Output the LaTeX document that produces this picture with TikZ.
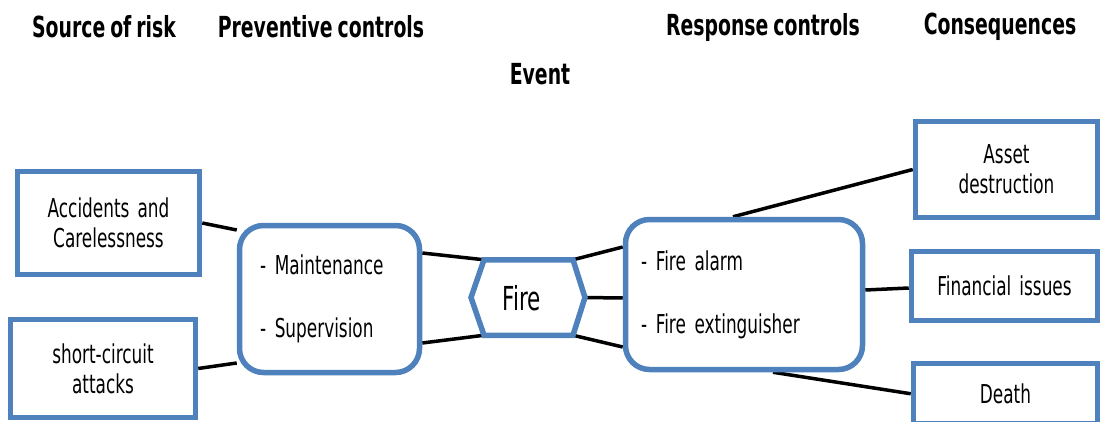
\documentclass[tikz,border=0pt]{standalone}
\usepackage{fontspec}
\setmainfont{DejaVu Sans}[FakeStretch=0.65,WordSpace=0.75]
\usetikzlibrary{positioning}
\pgfdeclarelayer{background}
\pgfsetlayers{background,main}
\definecolor{boxblue}{HTML}{4F81BD}

\begin{document}
\begin{tikzpicture}
[x=1pt,y=-1pt,
every node/.style={font=\fontsize{26}{30}\selectfont,align=center},
  r/.style = {rectangle,draw=boxblue,line width=5.5pt,fill=white,
        inner sep=0pt},
  rr/.style = {r,rounded corners=24pt,align=left,
        font=\fontsize{26}{63}\selectfont},
  hd/.style = {font=\fontsize{29}{32}\selectfont\bfseries},
  link/.style = {-,line width=3.5pt,black}]
\useasboundingbox (0,0) rectangle (1101,421);

% headings
\node[hd] (h-source) at (104,27) {Source of risk};
   \node[hd] (h-prev) at (321,27) {Preventive controls};
   \node[hd] (h-event) at (540,74) {Event};
   \node[hd] (h-resp) at (763,27) {Response controls};
   \node[hd] (h-cons) at (1000,27) {Consequences};

% boxes
\node[r,minimum width=182pt,minimum height=103pt] (accidents) at (108.5,223) {Accidents\ \ and\\Carelessness};
   \node[r,minimum width=185pt,minimum height=98pt] (short) at (103,368.5) {short-circuit\\attacks};
   \node[rr,minimum width=180pt,minimum height=147pt,text width=139pt] (prev) at (329.5,299) {- Maintenance\\- Supervision};
   \node[rr,minimum width=237pt,minimum height=150pt,text width=206pt] (resp) at (744,294.5) {- Fire alarm\\- Fire extinguisher};
   \node[r,minimum width=182pt,minimum height=96pt] (asset) at (1006.5,169.5) {Asset\\destruction};
   \node[r,minimum width=186pt,minimum height=69pt] (financial) at (1004.5,286) {Financial\ \ issues};
   \node[r,minimum width=184pt,minimum height=60.5pt] (death) at (1005.5,393.75) {Death};

% event
\coordinate (hex-w) at (471,297.5);
   \coordinate (hex-nw) at (484,259.75);
   \coordinate (hex-ne) at (573,259.75);
   \coordinate (hex-e) at (585,297.5);
   \coordinate (hex-se) at (573,335.25);
   \coordinate (hex-sw) at (484,335.25);
   \draw[draw=boxblue,line width=5.5pt,fill=white] (hex-w) -- (hex-nw) -- (hex-ne) -- (hex-e) -- (hex-se) -- (hex-sw) -- cycle;
   \node[font=\fontsize{33}{36}\selectfont] (fire) at (522,298) {Fire};

\begin{pgfonlayer}{background}
   \draw[link] (accidents.east) -- ([yshift=69pt]prev.west);
   \draw[link] (short.east) -- ([yshift=-64pt]prev.west);
   \draw[link] ([yshift=46pt]prev.east) -- (hex-nw);
   \draw[link] ([yshift=-44pt]prev.east) -- (hex-sw);
   \draw[link] (hex-ne) -- ([yshift=47.5pt]resp.west);
   \draw[link] (hex-e) -- ([yshift=-3.5pt]resp.west);
   \draw[link] (hex-se) -- ([yshift=-52.5pt]resp.west);
   \draw[link] ([xshift=-11pt]resp.north) -- (asset.west);
   \draw[link] ([yshift=4.5pt]resp.east) -- ([yshift=-2pt]financial.west);
   \draw[link] ([xshift=29pt]resp.south) -- (death.west);
\end{pgfonlayer}
%\node (root) at (540,200) {};
\end{tikzpicture}
\end{document}
